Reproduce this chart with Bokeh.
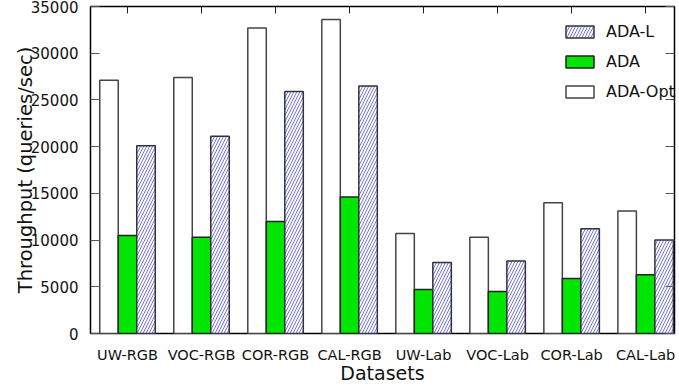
import numpy as np
from bokeh.plotting import figure
from bokeh.models import (ColumnDataSource, Range1d, LinearAxis, FixedTicker,
                          SingleIntervalTicker, Legend, LegendItem,
                          CustomLabelingPolicy, GlobalInlineStyleSheet)
from bokeh.transform import dodge
from bokeh.embed import file_html
from bokeh.resources import INLINE

categories = ["UW-RGB", "VOC-RGB", "COR-RGB", "CAL-RGB",
              "UW-Lab", "VOC-Lab", "COR-Lab", "CAL-Lab"]
ada_opt = [27100, 27400, 32700, 33600, 10700, 10300, 14000, 13100]
ada = [10500, 10300, 12000, 14600, 4700, 4500, 5900, 6300]
ada_l = [20100, 21100, 25900, 26500, 7600, 7750, 11200, 10000]
y_ticks = [0, 5000, 10000, 15000, 20000, 25000, 30000, 35000]

FONT = "DejaVu Sans"
xs = list(range(len(categories)))
src = ColumnDataSource(dict(x=xs, opt=ada_opt, ada=ada, adal=ada_l))

p = figure(width=676, height=388, output_backend="svg", toolbar_location=None,
           x_range=Range1d(-0.5, 7.39), y_range=Range1d(0, 35000),
           min_border_left=82, min_border_right=5, min_border_top=8,
           min_border_bottom=0)
p.stylesheets = [GlobalInlineStyleSheet(
    css="html { margin: 0; padding: 0; overflow: hidden; } "
        "body { margin: -2px 0 0 8px; padding: 0; overflow: hidden; }")]
p.xgrid.visible = False
p.ygrid.visible = False
p.outline_line_color = "black"
p.outline_line_width = 1.5
p.background_fill_color = "white"
p.border_fill_color = "white"

w = 0.25
r_opt = p.vbar(x=dodge("x", -w, range=p.x_range), top="opt", width=w, source=src,
               fill_color="white", line_color="#444444", line_width=1.5)
r_ada = p.vbar(x=dodge("x", 0, range=p.x_range), top="ada", width=w, source=src,
               fill_color="#00e600", line_color="#222222", line_width=1.5)
r_adal = p.vbar(x=dodge("x", w, range=p.x_range), top="adal", width=w, source=src,
                fill_color="white", line_color="#333333", line_width=1.5,
                hatch_pattern="/", hatch_color="#0000ff", hatch_scale=6,
                hatch_weight=0.8, hatch_alpha=0.7)

xt = FixedTicker(ticks=xs)
overrides = {i: c for i, c in enumerate(categories)}

# bottom axis
xa = p.xaxis[0]
xa.ticker = xt
xa.major_label_overrides = overrides
xa.major_tick_in = 0
xa.major_tick_out = 0
xa.minor_tick_line_color = None
xa.axis_line_color = None
xa.major_label_text_font = FONT
xa.major_label_text_font_size = "14.5px"
xa.major_label_text_color = "#111111"
xa.major_label_standoff = 13
xa.axis_label = "Datasets"
xa.axis_label_text_font = FONT
xa.axis_label_text_font_size = "19px"
xa.axis_label_text_font_style = "normal"
xa.axis_label_text_color = "#111111"
xa.axis_label_standoff = -4

# left axis
ya = p.yaxis[0]
ya.ticker = SingleIntervalTicker(interval=5000)
ya.major_tick_in = 9
ya.major_tick_out = 0
ya.major_tick_line_color = "#555555"
ya.minor_tick_line_color = None
ya.axis_line_color = None
ya.major_label_text_font = FONT
ya.major_label_text_font_size = "15px"
ya.major_label_text_color = "#111111"
ya.major_label_standoff = 8
ya.axis_label = "Throughput (queries/sec)"
ya.axis_label_text_font = FONT
ya.axis_label_text_font_size = "19.5px"
ya.axis_label_text_font_style = "normal"
ya.axis_label_text_color = "#111111"
ya.axis_label_standoff = -9

no_labels = CustomLabelingPolicy(code="""
const n = indices.size
for (let i = 0; i < n; i++) { indices.unset(i) }
return indices
""")

# mirrored axes
top = LinearAxis(ticker=xt, major_tick_in=7, major_tick_out=0,
                 major_label_policy=no_labels, major_label_standoff=0,
                 major_label_text_font_size="1px",
                 axis_line_color=None, minor_tick_line_color=None,
                 major_tick_line_color="#222222")
p.add_layout(top, "above")
right = LinearAxis(ticker=SingleIntervalTicker(interval=5000), major_tick_in=9,
                   major_tick_out=0, major_label_policy=no_labels,
                   major_label_text_font_size="1px",
                   major_label_standoff=0, axis_line_color=None,
                   minor_tick_line_color=None, major_tick_line_color="#555555")
p.add_layout(right, "right")

legend = Legend(items=[LegendItem(label="ADA-L", renderers=[r_adal]),
                       LegendItem(label="ADA", renderers=[r_ada]),
                       LegendItem(label="ADA-Opt", renderers=[r_opt])],
                location=(472, 232), padding=0, margin=0, spacing=11,
                glyph_width=35, glyph_height=15, label_height=15,
                label_standoff=9, label_text_font=FONT,
                label_text_font_size="16px", label_text_color="#111111",
                border_line_alpha=0, background_fill_alpha=0)
p.add_layout(legend, "center")

open("out.html", "w").write(file_html(p, INLINE))
